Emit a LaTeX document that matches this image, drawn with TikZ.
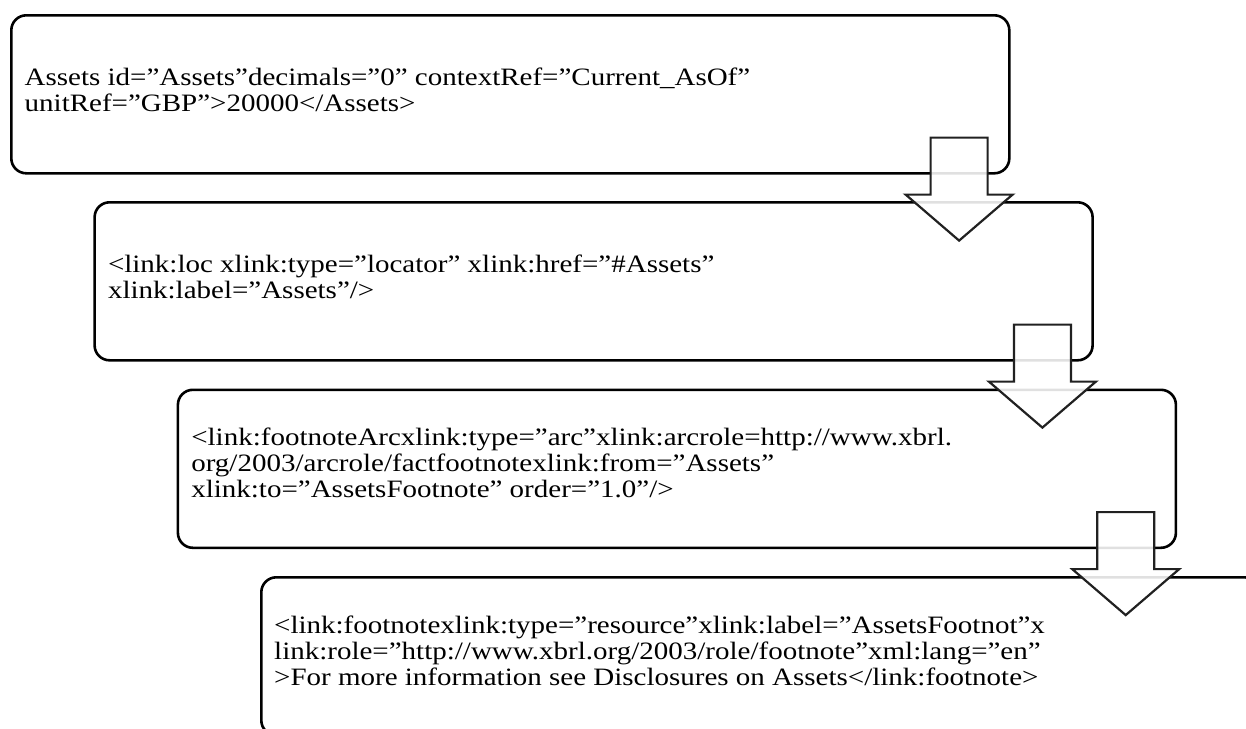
\documentclass[tikz,border=0pt]{standalone}
\usepackage{fontspec}
\setmainfont[Ligatures=CommonOff, FakeStretch=1.16]{Liberation Serif}
\tikzset{
  x=1pt, y=-1pt,
  codebox/.style={draw=black, line width=2.6pt, rounded corners=15pt,
    minimum width=998pt, minimum height=158pt, inner sep=0pt,
    anchor=north west},
  codeline/.style={anchor=base west, inner sep=0pt,
    font=\fontsize{25}{26}\selectfont},
  arrowline/.style={draw=black!87, line width=2.2pt, fill=white,
    fill opacity=0.88, line join=miter},
  pics/downarrow/.style={code={
    \draw[arrowline] (-28.5,0) -- (28.5,0) -- (28.5,57) -- (53.5,57)
      -- (0,103) -- (-53.5,57) -- (-28.5,57) -- cycle;
  }}
}
\begin{document}
\begin{tikzpicture}
\useasboundingbox (0,0) rectangle (1246,728);
\clip (0,0) rectangle (1246,728);

% the four rounded boxes, each shifted right and down from the last
\node[codebox] (b1) at (10,14) {};
\node[codebox] (b2) at (93.3,201) {};
\node[codebox] (b3) at (176.6,388.5) {};
\node[codebox] (b4) at (260,576) {};

% box 1
\node[codeline] (t11) at ([shift={(14.5,71)}]b1.north west)
  {Assets id=”Assets”decimals=”0” contextRef=”Current\_AsOf”};
\node[codeline] (t12) at ([shift={(14.5,97)}]b1.north west)
  {unitRef=”GBP”>20000</Assets>};

% box 2
\node[codeline] (t21) at ([shift={(14.5,71)}]b2.north west)
  {<link:loc xlink:type=”locator” xlink:href=”\#Assets”};
\node[codeline] (t22) at ([shift={(14.5,97)}]b2.north west)
  {xlink:label=”Assets”/>};

% box 3
\node[codeline] (t31) at ([shift={(14.5,57)}]b3.north west)
  {<link:footnoteArcxlink:type=”arc”xlink:arcrole=http://www.xbrl.};
\node[codeline] (t32) at ([shift={(14.5,83)}]b3.north west)
  {org/2003/arcrole/factfootnotexlink:from=”Assets”};
\node[codeline] (t33) at ([shift={(14.5,109)}]b3.north west)
  {xlink:to=”AssetsFootnote” order=”1.0”/>};

% box 4
\node[codeline] (t41) at ([shift={(14,57)}]b4.north west)
  {<link:footnotexlink:type=”resource”xlink:label=”AssetsFootnot”x};
\node[codeline] (t42) at ([shift={(14,83)}]b4.north west)
  {link:role=”http://www.xbrl.org/2003/role/footnote”xml:lang=”en”};
\node[codeline] (t43) at ([shift={(14,109)}]b4.north west)
  {>For more information see Disclosures on Assets</link:footnote>};

% block arrows from each box down into the next
\pic at ([shift={(-51.5,-37)}]b1.south east) {downarrow};
\pic at ([shift={(-51.5,-37)}]b2.south east) {downarrow};
\pic at ([shift={(-51.5,-37)}]b3.south east) {downarrow};
\end{tikzpicture}
\end{document}
